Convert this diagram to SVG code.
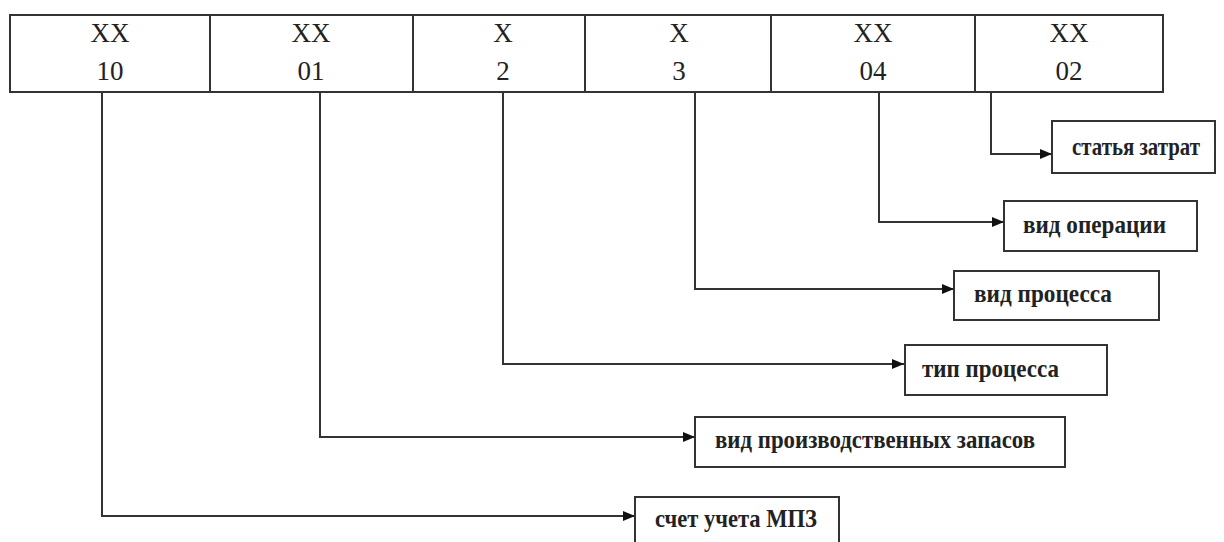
<svg xmlns="http://www.w3.org/2000/svg" width="1224" height="542" viewBox="0 0 1224 542">
<style>
.box{fill:#fff;stroke:#333;stroke-width:2}
.hd{font-family:"Liberation Serif",serif;font-size:27px;fill:#222;text-anchor:middle}
.lb{font-family:"Liberation Serif",serif;font-size:25px;font-weight:bold;fill:#222}
.cn{fill:none;stroke:#333;stroke-width:2}
</style>
<defs>
<marker id="ah" markerWidth="12" markerHeight="10" refX="12" refY="5" orient="auto" markerUnits="userSpaceOnUse">
<path d="M0,0 L12,5 L0,10 Z" fill="#111"/>
</marker>
</defs>
<g id="code">
<rect class="box" x="10" y="15" width="1153" height="77"/>
<line class="box" x1="210" y1="15" x2="210" y2="92"/>
<line class="box" x1="413" y1="15" x2="413" y2="92"/>
<line class="box" x1="585" y1="15" x2="585" y2="92"/>
<line class="box" x1="771" y1="15" x2="771" y2="92"/>
<line class="box" x1="975" y1="15" x2="975" y2="92"/>
<text class="hd" x="110" y="42">XX</text><text class="hd" x="110" y="80">10</text>
<text class="hd" x="311" y="42">XX</text><text class="hd" x="311" y="80">01</text>
<text class="hd" x="503" y="42">X</text><text class="hd" x="503" y="80">2</text>
<text class="hd" x="679" y="42">X</text><text class="hd" x="679" y="80">3</text>
<text class="hd" x="873" y="42">XX</text><text class="hd" x="873" y="80">04</text>
<text class="hd" x="1069" y="42">XX</text><text class="hd" x="1069" y="80">02</text>
</g>
<g id="connectors">
<path class="cn" d="M991,92 V154 H1052" marker-end="url(#ah)"/>
<path class="cn" d="M879,92 V222 H1004" marker-end="url(#ah)"/>
<path class="cn" d="M695,92 V289 H954" marker-end="url(#ah)"/>
<path class="cn" d="M503,92 V364 H904" marker-end="url(#ah)"/>
<path class="cn" d="M320,92 V437 H695" marker-end="url(#ah)"/>
<path class="cn" d="M102,92 V516 H635" marker-end="url(#ah)"/>
</g>
<g id="n1"><rect class="box" x="1052" y="121" width="163" height="52"/><text class="lb" x="1072" y="155" textLength="128" lengthAdjust="spacingAndGlyphs">статья затрат</text></g>
<g id="n2"><rect class="box" x="1004" y="201" width="193" height="50"/><text class="lb" x="1023" y="233" textLength="143" lengthAdjust="spacingAndGlyphs">вид операции</text></g>
<g id="n3"><rect class="box" x="954" y="271" width="205" height="49"/><text class="lb" x="974" y="302" textLength="138" lengthAdjust="spacingAndGlyphs">вид процесса</text></g>
<g id="n4"><rect class="box" x="905" y="345" width="202" height="50"/><text class="lb" x="922" y="377" textLength="137" lengthAdjust="spacingAndGlyphs">тип процесса</text></g>
<g id="n5"><rect class="box" x="695" y="417" width="370" height="50"/><text class="lb" x="715" y="448" textLength="320" lengthAdjust="spacingAndGlyphs">вид производственных запасов</text></g>
<g id="n6"><rect class="box" x="635" y="497" width="204" height="60"/><text class="lb" x="655" y="527" textLength="162" lengthAdjust="spacingAndGlyphs">счет учета МПЗ</text></g>
</svg>
